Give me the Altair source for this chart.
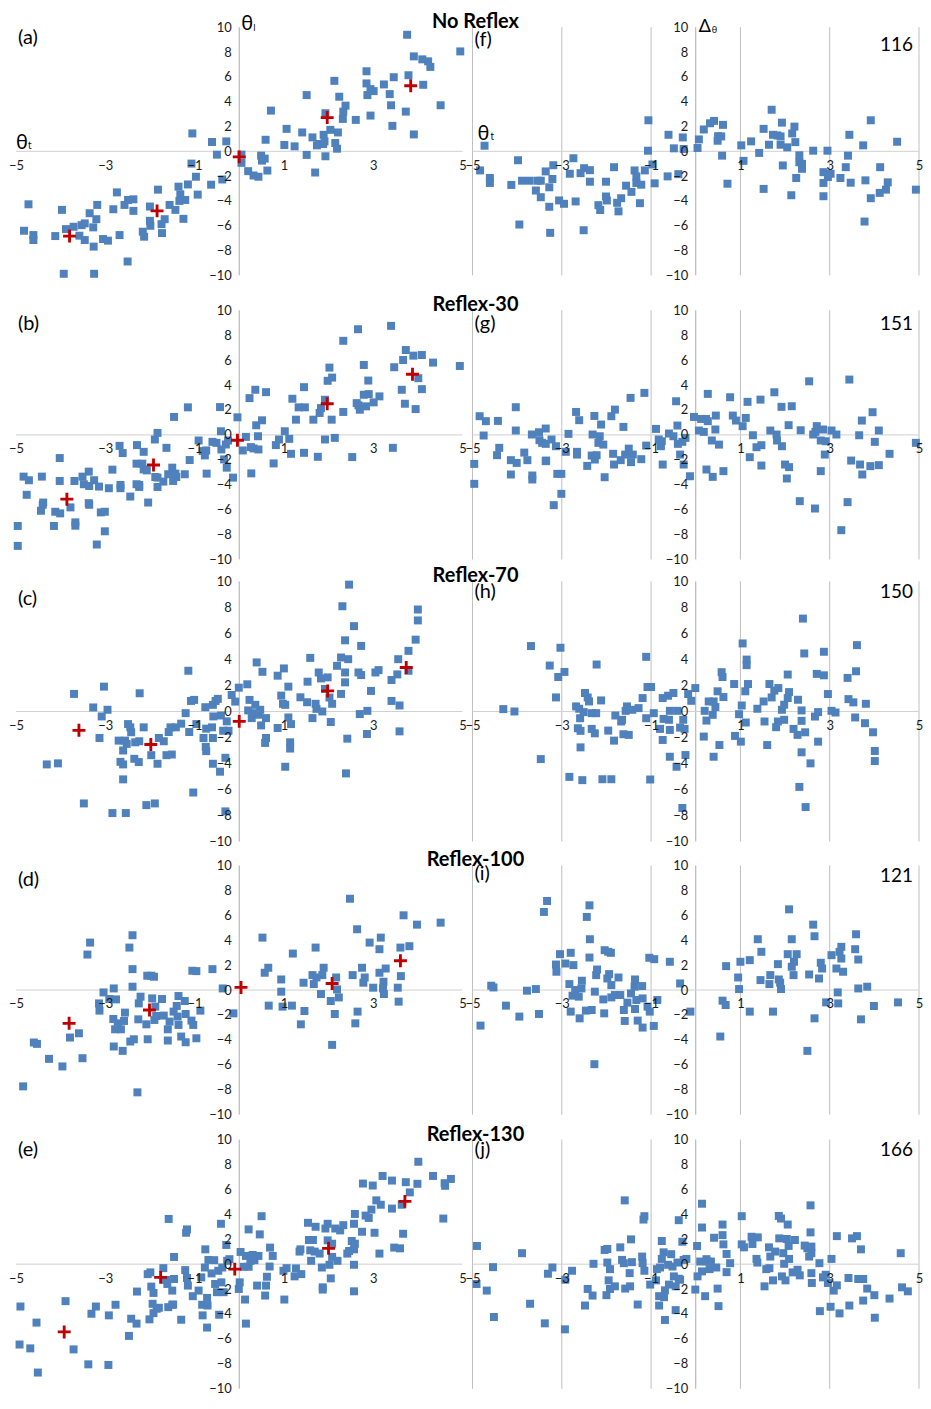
import altair as alt
import pandas as pd

# ---------------- data ----------------
ROW_TITLES = ["No Reflex", "Reflex-30", "Reflex-70", "Reflex-100", "Reflex-130"]
LEFT_LETTERS = ["(a)", "(b)", "(c)", "(d)", "(e)"]
RIGHT_LETTERS = ["(f)", "(g)", "(h)", "(i)", "(j)"]
COUNTS = ["116", "151", "150", "121", "166"]
X_TICKS = [-5, -3, -1, 1, 3, 5]
Y_TICKS = [-10, -8, -6, -4, -2, 0, 2, 4, 6, 8, 10]
GRID_X = [-5, -3, -1, 1, 3, 5]

# (a) theta_l vs theta_t, No Reflex
A_PTS = [(-4.82,-6.4),(-4.72,-4.27),(-4.61,-6.75),(-4.61,-7.15),(-4.12,-6.83),(-3.97,-4.72),(-3.93,-9.87),
 (-3.88,-6.27),(-3.71,-6.08),(-3.58,-6.8),(-3.53,-5.95),(-3.46,-5.81),(-3.46,-7.15),(-3.35,-4.99),(-3.27,-6.13),
 (-3.26,-7.68),(-3.25,-9.87),(-3.2,-5.47),(-3.18,-4.32),(-3.05,-7.07),(-2.94,-7.2),(-2.82,-4.67),(-2.74,-3.31),
 (-2.68,-6.75),(-2.57,-4.32),(-2.49,-3.92),(-2.5,-8.88),(-2.37,-3.87),(-2.37,-4.8),(-2.16,-6.48),(-2.13,-6.88),
 (-2.0,-4.45),(-2.0,-5.6),(-1.99,-6.0),(-1.82,-3.09),(-1.73,-6.59),(-1.74,-5.87),(-1.67,-5.47),(-1.56,-4.32),
 (-1.43,-4.72),(-1.36,-2.85),(-1.32,-3.47),(-1.34,-4.0),(-1.25,-5.44),(-1.21,-3.92),(-1.15,-2.67),(-1.05,1.44),
 (-1.07,-0.99),(-0.97,-2.05),(-0.93,-3.49),(-0.63,-2.69),(-0.61,0.75),(-0.5,-0.27),(-0.38,-2.27),(-0.29,0.8),
 (0.05,-0.27),(0.05,-0.93),(0.2,-1.6),(0.32,-1.95),(0.43,-2.05),(0.49,-0.35),(0.51,-0.75),(0.57,-0.59),
 (0.63,-1.55),(0.59,0.93),(0.71,3.28),(1.01,0.51),(1.06,1.81),(1.24,0.4),(1.41,1.52),(1.51,4.53),(1.51,-0.29),
 (1.64,1.12),(1.7,-1.71),(1.74,0.48),(1.8,0.59),(1.88,0.59),(1.89,1.33),(1.91,0.8),(1.93,-0.4),(1.93,3.07),
 (2.04,1.73),(2.13,5.68),(2.15,0.67),(2.19,0.21),(2.21,1.52),(2.24,4.4),(2.32,2.61),(2.33,3.2),(2.38,3.68),
 (2.61,2.53),(2.85,6.45),(2.85,5.47),(2.87,4.53),(2.94,5.01),(2.94,2.88),(3.01,4.85),(3.24,5.39),(3.37,4.61),
 (3.4,3.71),(3.43,2.05),(3.46,5.97),(3.73,3.2),(3.76,9.39),(3.79,6.13),(3.91,7.65),(3.91,1.36),(4.1,7.41),
 (4.12,5.36),(4.23,7.25),(4.28,6.8),(4.51,3.71),(4.95,8.05)]
A_MEANS = [(-3.8,-6.83),(-1.84,-4.8),(0.0,-0.45),(1.97,2.72),(3.84,5.28)]

# (f) delta vs theta_t, No Reflex
F_PTS = [(-4.83,-1.54),(-4.73,0.45),(-4.61,-2.15),(-4.61,-2.55),(-4.13,-2.71),(-3.98,-0.72),(-3.95,-5.9),
 (-3.89,-2.37),(-3.72,-2.37),(-3.58,-3.16),(-3.54,-2.37),(-3.47,-2.37),(-3.47,-3.7),(-3.36,-1.62),(-3.28,-2.9),
 (-3.28,-4.47),(-3.26,-6.57),(-3.21,-2.23),(-3.19,-1.12),(-3.06,-3.96),(-2.95,-4.23),(-2.82,-1.81),(-2.74,-0.56),
 (-2.69,-4.04),(-2.58,-1.76),(-2.5,-1.36),(-2.51,-6.36),(-2.37,-1.52),(-2.37,-2.45),(-2.18,-4.34),(-2.14,-4.73),
 (-2.01,-2.45),(-2.01,-3.64),(-1.99,-3.96),(-1.83,-1.28),(-1.76,-4.15),(-1.73,-4.84),(-1.67,-3.78),(-1.56,-2.77),
 (-1.44,-3.27),(-1.37,-1.54),(-1.33,-2.02),(-1.33,-2.55),(-1.22,-2.69),(-1.25,-4.18),(-1.14,-1.54),(-1.07,0.05),
 (-1.06,2.5),(-0.97,-1.06),(-0.92,-2.58),(-0.63,-2.02),(-0.61,1.33),(-0.49,0.24),(-0.39,-1.84),(-0.29,1.12),
 (-0.27,0.19),(0.04,0.27),(0.07,0.96),(0.18,1.76),(0.32,2.26),(0.41,2.45),(0.49,0.85),(0.5,1.22),(0.57,1.2),
 (0.59,-0.35),(0.61,2.13),(0.71,-2.61),(1.02,0.48),(1.07,-0.77),(1.24,0.8),(1.42,-0.13),(1.52,1.81),(1.52,-3.03),
 (1.64,0.53),(1.7,3.35),(1.73,1.33),(1.83,1.28),(1.9,1.2),(1.9,0.53),(1.93,2.31),(1.95,-1.14),(2.05,0.32),
 (2.14,-3.54),(2.16,1.44),(2.21,1.99),(2.23,0.74),(2.25,-2.15),(2.32,-0.32),(2.32,-0.88),(2.38,-1.01),(2.38,-1.41),
 (2.63,0.05),(2.86,-1.68),(2.86,-2.55),(2.86,-3.62),(2.95,0.05),(2.96,-2.07),(3.02,-1.81),(3.24,-2.15),
 (3.36,-1.28),(3.41,-0.35),(3.44,1.33),(3.47,-2.53),(3.75,0.48),(3.78,-5.66),(3.8,-2.34),(3.92,-3.78),(3.92,2.5),
 (4.13,-1.28),(4.12,-3.35),(4.26,-3.09),(4.3,-2.5),(4.51,0.77),(4.93,-3.09)]

# (b) Reflex-30
B_PTS = [(-4.96,-7.31),(-4.96,-8.91),(-4.83,-3.35),(-4.76,-4.81),(-4.71,-3.64),(-4.44,-6.09),(-4.42,-3.35),
 (-4.4,-5.61),(-4.39,-5.43),(-4.15,-7.31),(-4.12,-6.17),(-4.02,-1.86),(-4.02,-3.7),(-4.01,-6.3),(-3.78,-5.82),
 (-3.69,-3.7),(-3.67,-7.02),(-3.67,-7.29),(-3.51,-3.35),(-3.48,-3.96),(-3.37,-2.95),(-3.36,-4.1),(-3.37,-5.48),
 (-3.36,-5.61),(-3.25,-3.64),(-3.19,-8.8),(-3.14,-4.15),(-3.1,-6.22),(-3.01,-6.17),(-3.01,-7.74),(-2.92,-4.28),
 (-2.84,-2.79),(-2.68,-0.88),(-2.66,-4.28),(-2.66,-4.02),(-2.61,-1.46),(-2.44,-4.95),(-2.29,-0.82),(-2.3,-2.31),
 (-2.3,-3.96),(-2.24,-4.02),(-2.24,-4.18),(-2.17,-2.31),(-2.14,-1.36),(-2.14,-2.77),(-2.07,-2.85),(-2.04,-5.43),
 (-1.89,-0.37),(-1.88,-3.38),(-1.83,0.16),(-1.83,-3.43),(-1.83,-4.18),(-1.7,-3.75),(-1.63,-1.04),(-1.59,-3.16),
 (-1.5,-2.63),(-1.48,-3.7),(-1.46,1.44),(-1.43,-3.11),(-1.41,-3.38),(-1.22,-3.16),(-1.15,2.21),(-1.11,-2.02),
 (-0.91,-0.45),(-0.82,-1.3),(-0.77,-1.65),(-0.74,-1.25),(-0.73,-3.11),(-0.6,-0.56),(-0.51,-0.64),(-0.43,2.23),
 (-0.41,0.29),(-0.4,-1.17),(-0.34,-1.97),(-0.3,-0.77),(-0.28,-2.63),(-0.25,-0.45),(-0.14,-3.43),(-0.04,1.41),
 (0.08,-1.25),(0.15,-0.16),(0.23,2.95),(0.26,-0.98),(0.27,-3.09),(0.32,-1.09),(0.36,3.62),(0.38,0.77),
 (0.42,-0.11),(0.43,-1.17),(0.51,1.17),(0.6,3.43),(0.77,-2.29),(0.82,-0.82),(0.89,-0.37),(1.02,0.29),
 (1.12,-0.32),(1.16,-1.52),(1.19,2.9),(1.27,1.22),(1.33,2.21),(1.45,3.83),(1.47,2.21),(1.45,-1.44),(1.66,1.22),
 (1.76,-1.76),(1.8,1.76),(1.83,2.15),(1.92,-0.37),(1.92,2.82),(1.98,4.34),(2.02,5.4),(2.08,4.6),(2.07,1.22),
 (2.14,-0.24),(2.33,7.55),(2.33,1.84),(2.53,-1.78),(2.63,2.55),(2.66,8.48),(2.67,2.37),(2.7,2.02),(2.79,5.61),
 (2.79,3.22),(2.84,2.29),(2.89,4.36),(2.9,3.27),(3.01,2.61),(3.14,3.09),(3.4,8.75),(3.44,-1.04),(3.47,5.43),
 (3.64,3.62),(3.67,6.01),(3.71,2.5),(3.73,6.81),(3.9,6.36),(3.95,2.07),(4.01,4.55),(4.09,6.41),(4.09,3.67),
 (4.34,5.8),(4.94,5.53)]
B_MEANS = [(-3.86,-5.16),(-1.92,-2.42),(-0.04,-0.43),(1.97,2.5),(3.88,4.87)]

# (g) Reflex-30 delta
G_PTS = [(-4.96,-2.33),(-4.96,-3.93),(-4.84,1.5),(-4.75,-0.05),(-4.7,1.1),(-4.45,-1.63),(-4.43,1.12),(-4.4,-1.04),
 (-4.14,-2.03),(-4.14,-3.18),(-4.03,2.22),(-4.03,0.35),(-4.01,-2.25),(-3.84,-1.42),(-3.77,-2.03),(-3.67,0.03),
 (-3.66,-3.26),(-3.66,-3.58),(-3.51,0.21),(-3.5,-0.43),(-3.44,-0.64),(-3.36,0.51),(-3.36,-0.72),(-3.36,-2.11),
 (-3.35,-2.06),(-3.23,-0.37),(-3.18,-5.64),(-3.13,-0.91),(-3.1,-3.13),(-3.01,-3.13),(-3.01,-4.73),(-2.91,-1.36),
 (-2.85,0.08),(-2.68,1.84),(-2.66,-1.36),(-2.66,-1.58),(-2.61,1.18),(-2.43,-2.49),(-2.33,-1.66),(-2.31,0.03),
 (-2.27,1.52),(-2.26,-1.98),(-2.22,-1.63),(-2.15,-0.11),(-2.18,-0.64),(-2.12,0.83),(-2.07,-0.78),(-2.04,-3.4),
 (-1.89,1.5),(-1.85,-1.52),(-1.81,2.03),(-1.83,-2.38),(-1.68,-2.03),(-1.62,0.64),(-1.58,-1.58),(-1.5,-1.1),
 (-1.46,2.97),(-1.45,-2.19),(-1.41,-1.58),(-1.22,-1.95),(-1.15,3.37),(-1.11,-0.86),(-0.89,0.48),(-0.83,-0.37),
 (-0.78,-0.91),(-0.76,-0.51),(-0.74,-2.38),(-0.6,0.11),(-0.5,-0.11),(-0.44,2.7),(-0.41,0.75),(-0.4,-0.72),
 (-0.35,-1.58),(-0.3,-0.56),(-0.27,-2.38),(-0.23,-0.24),(-0.13,-3.32),(-0.04,1.44),(0.07,0.35),(0.12,1.28),
 (0.18,0.24),(0.23,1.28),(0.24,-2.78),(0.27,3.29),(0.27,1.1),(0.36,-0.45),(0.38,-3.37),(0.44,0.43),(0.45,1.55),
 (0.52,-0.78),(0.62,-2.91),(0.77,3.02),(0.83,1.55),(0.9,1.15),(1.05,0.7),(1.12,1.36),(1.16,2.65),(1.21,-1.79),
 (1.28,-0.03),(1.36,-0.99),(1.45,2.83),(1.47,-0.83),(1.47,-2.46),(1.67,0.35),(1.76,3.42),(1.81,0.03),
 (1.82,-0.45),(1.92,2.25),(1.93,-0.91),(2.0,-2.38),(2.04,-3.5),(2.08,0.78),(2.09,-2.59),(2.15,2.3),(2.33,-5.32),
 (2.35,0.37),(2.54,4.3),(2.63,0.03),(2.67,-5.91),(2.68,0.24),(2.71,0.7),(2.8,-0.45),(2.8,-2.91),(2.85,0.43),
 (2.91,-0.51),(2.89,-1.58),(3.04,0.35),(3.15,0.03),(3.26,-7.65),(3.4,-5.4),(3.44,4.44),(3.48,-2.06),(3.66,-0.03),
 (3.68,-2.38),(3.72,1.15),(3.73,-3.18),(3.91,-2.51),(3.96,1.82),(4.01,-0.56),(4.1,0.35),(4.1,-2.43),(4.34,-1.52),
 (4.93,-0.64)]

# (c) Reflex-70
C_PTS = [(-4.31,-4.07),(-4.06,-3.99),(-3.7,1.35),(-3.48,-7.07),(-3.27,0.31),(-3.13,-2.04),(-3.08,-0.38),
 (-3.03,1.91),(-2.95,0.13),(-2.84,-7.81),(-2.7,-2.24),(-2.66,-3.87),(-2.6,-3.0),(-2.6,-5.22),(-2.6,-4.07),
 (-2.56,-2.24),(-2.54,-7.81),(-2.52,-2.49),(-2.49,-0.97),(-2.44,-1.22),(-2.42,-1.6),(-2.35,-3.64),(-2.33,-2.37),
 (-2.25,-3.89),(-2.24,-2.29),(-2.23,1.4),(-2.14,-1.22),(-2.08,-7.2),(-1.97,-3.36),(-1.89,-7.07),(-1.83,-4.02),
 (-1.8,-2.04),(-1.69,-2.29),(-1.63,-3.36),(-1.58,-1.58),(-1.54,-1.22),(-1.51,-3.31),(-1.42,-1.22),(-1.3,-0.94),
 (-1.2,-0.13),(-1.14,3.13),(-1.12,-1.58),(-1.08,0.81),(-1.03,-6.23),(-1.01,0.89),(-0.96,-0.97),(-0.8,-2.04),
 (-0.76,0.33),(-0.74,-1.32),(-0.75,-2.72),(-0.74,-3.05),(-0.61,-1.22),(-0.59,-2.04),(-0.59,0.51),(-0.59,-4.02),
 (-0.58,-0.38),(-0.53,0.81),(-0.48,0.97),(-0.43,-4.63),(-0.41,-0.31),(-0.36,-1.48),(-0.31,-3.56),(-0.31,-7.68),
 (-0.28,-0.76),(-0.24,-1.48),(-0.17,1.27),(-0.09,0.76),(-0.01,1.83),(0.18,2.09),(0.2,0.08),(0.23,0.89),
 (0.28,-0.51),(0.32,-0.13),(0.36,0.51),(0.39,3.77),(0.43,-0.25),(0.47,0.13),(0.49,-1.07),(0.52,3.05),
 (0.58,-2.42),(0.6,-0.51),(0.6,-2.04),(0.86,2.75),(0.86,-1.27),(0.94,1.22),(0.98,0.59),(1.0,3.31),(1.03,-4.25),
 (1.03,0.51),(1.1,-0.46),(1.1,1.91),(1.14,-2.37),(1.14,-2.85),(1.16,-0.97),(1.37,1.09),(1.52,0.71),(1.53,2.29),
 (1.59,4.12),(1.64,-0.51),(1.71,0.59),(1.73,0.2),(1.78,3.0),(1.83,2.54),(1.86,0.0),(1.92,1.73),(1.98,2.62),
 (2.02,1.07),(2.05,-0.81),(2.08,0.59),(2.19,3.51),(2.28,4.15),(2.28,1.35),(2.31,8.09),(2.37,5.47),(2.37,3.0),
 (2.37,2.24),(2.39,-4.76),(2.42,-2.09),(2.44,4.02),(2.46,9.75),(2.57,6.56),(2.67,3.0),(2.7,-0.2),(2.73,5.04),
 (2.73,2.8),(2.86,-1.73),(2.87,0.05),(2.95,1.58),(3.05,3.0),(3.12,3.18),(3.41,2.42),(3.41,0.81),(3.54,2.85),
 (3.56,4.02),(3.59,-1.53),(3.59,0.46),(3.79,4.66),(3.79,3.13),(3.95,5.52),(4.0,7.0),(4.0,7.84)]
C_MEANS = [(-3.59,-1.45),(-1.98,-2.54),(0.0,-0.76),(1.98,1.58),(3.74,3.38)]

# (h) Reflex-70 delta
H_PTS = [(-4.31,0.18),(-4.06,0.0),(-3.69,5.03),(-3.47,-3.66),(-3.27,3.53),(-3.13,1.08),(-3.08,2.65),(-3.03,4.9),
 (-2.94,3.04),(-2.83,-5.03),(-2.68,0.39),(-2.64,-1.29),(-2.61,0.21),(-2.59,-0.52),(-2.58,-1.49),(-2.58,-2.76),
 (-2.54,-5.28),(-2.51,-0.05),(-2.48,1.42),(-2.42,1.08),(-2.39,0.77),(-2.33,-0.13),(-2.33,-1.34),(-2.26,-1.68),
 (-2.23,-0.13),(-2.22,3.61),(-2.12,0.85),(-2.09,-5.21),(-1.96,-1.47),(-1.89,-5.21),(-1.83,-2.24),(-1.8,-0.31),
 (-1.67,-0.77),(-1.65,-0.64),(-1.62,-1.75),(-1.57,0.05),(-1.54,0.39),(-1.5,-1.8),(-1.42,0.13),(-1.28,0.26),
 (-1.19,1.03),(-1.11,-0.52),(-1.11,4.2),(-1.08,1.88),(-1.02,-5.23),(-1.0,1.88),(-0.94,-0.13),(-0.8,-1.34),
 (-0.74,1.03),(-0.74,-2.19),(-0.72,-0.57),(-0.62,1.21),(-0.6,-0.64),(-0.58,-1.42),(-0.58,0.05),(-0.58,-3.48),
 (-0.5,1.42),(-0.43,-4.25),(-0.41,0.05),(-0.35,-1.24),(-0.3,-7.42),(-0.28,-0.64),(-0.25,-1.34),(-0.23,-3.35),
 (-0.17,1.34),(-0.1,0.82),(-0.01,1.8),(0.18,-1.93),(0.2,0.05),(0.24,-0.7),(0.29,0.77),(0.38,-0.26),(0.4,0.77),
 (0.4,-3.48),(0.44,0.34),(0.49,1.55),(0.53,-2.58),(0.58,3.02),(0.6,2.65),(0.62,1.11),(0.86,2.11),(0.88,-1.88),
 (0.97,-0.21),(1.01,-2.32),(1.03,0.46),(1.05,5.23),(1.11,1.55),(1.12,-0.85),(1.14,3.99),(1.14,3.56),(1.17,2.11),
 (1.38,0.21),(1.52,0.77),(1.54,-0.77),(1.6,-2.58),(1.65,2.11),(1.7,1.08),(1.76,1.6),(1.8,-1.21),(1.84,-0.77),
 (1.85,1.8),(1.93,0.13),(1.98,0.52),(1.98,-0.64),(2.06,2.84),(2.06,1.03),(2.09,1.49),(2.19,-1.34),(2.28,-1.8),
 (2.29,0.9),(2.32,-5.8),(2.37,0.08),(2.37,-0.72),(2.37,-3.14),(2.4,7.14),(2.43,4.46),(2.45,-1.6),(2.46,-7.35),
 (2.57,-3.99),(2.67,-0.39),(2.71,2.89),(2.74,-0.05),(2.74,-2.32),(2.87,4.59),(2.87,2.78),(2.96,1.34),(3.04,0.05),
 (3.13,-0.08),(3.4,2.58),(3.42,0.95),(3.53,0.7),(3.57,-0.46),(3.59,3.09),(3.61,5.1),(3.79,-0.9),(3.81,0.59),
 (3.97,-1.6),(4.01,-3.04),(4.01,-3.81)]

# (d) Reflex-100
D_PTS = [(-4.84,-7.73),(-4.6,-4.21),(-4.53,-4.32),(-4.26,-5.52),(-3.96,-6.13),(-3.79,-3.81),(-3.59,-3.47),
 (-3.51,-5.47),(-3.4,2.85),(-3.34,3.81),(-3.14,-1.07),(-3.13,-1.65),(-3.04,-0.19),(-2.91,-0.72),(-2.81,0.13),
 (-2.82,-2.32),(-2.81,-4.53),(-2.76,-0.75),(-2.78,-3.15),(-2.72,-2.67),(-2.65,-3.15),(-2.61,-4.88),(-2.58,-2.48),
 (-2.56,-1.81),(-2.46,3.41),(-2.44,-4.13),(-2.39,4.4),(-2.39,1.68),(-2.39,0.27),(-2.36,-3.95),(-2.28,-8.21),
 (-2.26,-2.35),(-2.25,-1.07),(-2.21,-0.53),(-2.08,-2.75),(-2.06,1.15),(-2.05,-3.95),(-1.97,1.15),(-1.95,-0.67),
 (-1.91,1.07),(-1.9,-2.4),(-1.88,-1.33),(-1.86,-2.08),(-1.73,-0.72),(-1.69,-2.05),(-1.6,-3.15),(-1.6,-4.05),
 (-1.56,-2.53),(-1.47,-1.73),(-1.4,-1.28),(-1.38,-2.13),(-1.36,-2.8),(-1.36,-0.48),(-1.3,-3.73),(-1.22,-0.88),
 (-1.2,-1.92),(-1.2,-4.19),(-1.07,-2.45),(-1.03,-2.8),(-1.05,1.55),(-0.96,1.52),(-0.96,-3.87),(-0.87,-1.65),
 (-0.6,1.68),(-0.37,0.13),(-0.13,-1.87),(0.52,4.21),(0.57,1.39),(0.65,1.79),(0.66,-1.25),(0.94,0.85),
 (0.94,-0.13),(0.97,-1.33),(1.18,-1.25),(1.2,2.93),(1.38,-2.75),(1.44,0.59),(1.46,-1.68),(1.64,1.2),(1.67,0.48),
 (1.71,3.41),(1.73,1.01),(1.83,-0.32),(1.86,1.2),(1.89,1.79),(2.05,-0.88),(2.08,-4.4),(2.14,-1.92),(2.17,1.01),
 (2.19,0.05),(2.23,-0.59),(2.48,7.33),(2.54,1.2),(2.6,-2.67),(2.64,4.88),(2.65,-1.73),(2.75,1.79),(2.78,0.59),
 (2.81,1.01),(2.92,3.81),(3.0,0.19),(3.14,3.28),(3.14,1.39),(3.17,4.21),(3.22,0.13),(3.23,0.67),(3.24,-0.32),
 (3.28,1.73),(3.55,0.19),(3.57,-0.93),(3.61,3.41),(3.62,1.12),(3.68,6.0),(3.81,3.52),(3.98,5.25),(4.51,5.41)]
D_MEANS = [(-3.81,-2.67),(-2.01,-1.6),(0.04,0.21),(2.08,0.53),(3.61,2.35)]

# (i) Reflex-100 delta
I_PTS = [(-4.82,-2.85),(-4.58,0.35),(-4.53,0.21),(-4.25,-1.25),(-3.95,-2.13),(-3.78,-0.05),(-3.58,0.08),
 (-3.51,-1.92),(-3.4,6.27),(-3.33,7.15),(-3.13,2.05),(-3.12,1.47),(-3.04,2.88),(-2.92,2.13),(-2.83,0.48),
 (-2.8,-1.73),(-2.8,2.99),(-2.76,-0.45),(-2.74,2.0),(-2.7,0.0),(-2.62,-0.53),(-2.6,-2.27),(-2.56,0.13),
 (-2.55,0.75),(-2.46,-1.65),(-2.44,5.87),(-2.38,2.61),(-2.38,6.8),(-2.37,4.08),(-2.33,-1.6),(-2.27,-5.95),
 (-2.26,-0.13),(-2.23,1.2),(-2.21,1.65),(-2.07,-0.75),(-2.05,-1.87),(-2.04,3.2),(-1.98,0.93),(-1.96,3.07),
 (-1.94,1.28),(-1.9,2.99),(-1.89,0.4),(-1.89,-0.59),(-1.81,-0.4),(-1.73,1.01),(-1.69,-0.4),(-1.61,-1.6),
 (-1.59,-2.48),(-1.53,-1.01),(-1.45,-0.27),(-1.37,0.27),(-1.36,0.85),(-1.36,-1.52),(-1.33,-0.8),(-1.3,-2.45),
 (-1.2,0.32),(-1.19,-0.67),(-1.19,-3.01),(-1.08,-1.33),(-1.04,2.59),(-1.03,-1.73),(-0.94,-2.88),(-0.93,2.48),
 (-0.86,-0.8),(-0.58,2.27),(-0.35,0.53),(-0.12,-1.73),(0.55,-3.73),(0.6,-0.85),(0.67,-1.2),(0.68,1.92),
 (0.95,1.01),(0.97,0.08),(1.0,2.27),(1.21,-1.73),(1.21,2.4),(1.39,4.08),(1.45,0.8),(1.47,3.07),(1.65,0.48),
 (1.67,1.2),(1.73,-1.73),(1.84,2.08),(1.86,0.85),(1.89,0.59),(1.91,0.08),(2.06,2.88),(2.09,6.48),(2.15,1.87),
 (2.15,4.08),(2.19,1.2),(2.2,2.27),(2.26,2.88),(2.5,-4.88),(2.54,1.25),(2.63,5.25),(2.66,4.32),(2.66,-2.27),
 (2.76,0.93),(2.8,2.19),(2.83,1.73),(2.92,-0.99),(3.04,2.8),(3.15,1.73),(3.18,-0.19),(3.19,-1.07),(3.22,3.07),
 (3.26,3.47),(3.26,2.53),(3.3,1.47),(3.57,3.28),(3.59,4.48),(3.64,2.45),(3.64,0.13),(3.7,-2.35),(3.84,0.27),
 (3.99,-1.28),(4.53,-0.99)]

# (e) Reflex-130
E_PTS = [(-4.9,-3.4),(-4.92,-6.45),(-4.68,-6.76),(-4.54,-4.69),(-4.51,-8.7),(-3.89,-2.97),(-3.71,-6.84),
 (-3.38,-8.04),(-3.31,-3.98),(-3.21,-3.4),(-2.93,-8.09),(-2.92,-4.11),(-2.77,-3.26),(-2.47,-5.76),(-2.42,-4.38),
 (-2.3,-4.77),(-2.29,-2.2),(-2.05,-0.8),(-1.99,-0.66),(-1.97,-1.8),(-2.01,-4.43),(-1.94,-3.18),(-1.92,-2.31),
 (-1.92,-3.93),(-1.85,-3.58),(-1.8,-3.5),(-1.7,-0.32),(-1.64,-1.27),(-1.61,-1.59),(-1.58,3.63),(-1.59,-3.45),
 (-1.5,-2.12),(-1.5,-3.26),(-1.48,-3.24),(-1.46,-1.19),(-1.46,0.58),(-1.3,-4.46),(-1.21,-0.48),(-1.19,2.52),
 (-1.17,2.79),(-1.17,-1.11),(-1.15,-1.72),(-1.04,-2.57),(-0.91,-2.12),(-0.85,-1.06),(-0.83,-3.26),(-0.82,-4.11),
 (-0.76,1.19),(-0.77,-0.27),(-0.72,-2.71),(-0.72,-5.09),(-0.71,-3.32),(-0.69,0.34),(-0.62,-0.74),(-0.56,0.32),
 (-0.54,-1.59),(-0.5,-2.25),(-0.47,-0.53),(-0.45,-4.06),(-0.41,3.24),(-0.4,-1.46),(-0.38,-0.27),(-0.35,-2.25),
 (-0.29,1.54),(-0.27,0.27),(-0.22,0.4),(-0.01,-1.99),(0.01,-1.46),(0.03,0.98),(0.1,-0.21),(0.13,-2.84),
 (0.15,-4.77),(0.15,0.66),(0.21,2.79),(0.21,-0.21),(0.25,0.27),(0.3,0.74),(0.34,0.32),(0.4,-1.72),(0.43,0.66),
 (0.46,2.39),(0.5,3.85),(0.58,-2.52),(0.6,-1.72),(0.62,-1.01),(0.68,-0.19),(0.69,1.33),(0.75,0.66),(0.99,-0.53),
 (1.01,-2.84),(1.06,-0.32),(1.24,-0.98),(1.27,-0.34),(1.35,1.01),(1.39,-0.8),(1.37,1.19),(1.54,3.32),(1.56,1.94),
 (1.59,1.11),(1.61,0.27),(1.65,1.94),(1.69,1.01),(1.71,3.0),(1.8,0.85),(1.85,-0.27),(1.87,-1.86),(1.87,-2.04),
 (1.93,2.86),(1.98,1.91),(1.98,3.24),(2.02,-0.05),(2.05,-1.14),(2.08,1.64),(2.08,0.58),(2.15,2.86),(2.2,0.27),
 (2.26,2.71),(2.33,3.13),(2.42,0.85),(2.46,1.06),(2.52,1.86),(2.57,3.24),(2.57,1.19),(2.57,-0.05),(2.57,-2.18),
 (2.59,4.03),(2.59,1.64),(2.75,2.6),(2.77,6.47),(2.83,3.9),(2.9,3.71),(2.96,4.38),(2.99,6.31),(3.03,2.52),
 (3.07,5.12),(3.14,0.85),(3.17,4.77),(3.21,7.08),(3.42,4.46),(3.42,6.71),(3.47,1.33),(3.6,1.27),(3.64,4.77),
 (3.67,2.44),(3.73,6.58),(3.82,5.76),(3.99,6.45),(4.01,8.22),(4.34,7.08),(4.57,3.66),(4.6,6.5),(4.61,6.29),
 (4.74,6.84)]
E_MEANS = [(-3.92,-5.44),(-1.76,-1.06),(-0.1,-0.4),(2.0,1.27),(3.71,5.04)]

# (j) Reflex-130 delta
J_PTS = [(-4.91,-1.59),(-4.9,1.46),(-4.68,-2.12),(-4.54,-0.24),(-4.52,-4.24),(-3.89,0.88),(-3.71,-3.18),
 (-3.38,-4.75),(-3.31,-0.77),(-3.21,-0.27),(-2.93,-5.23),(-2.92,-1.25),(-2.77,-0.53),(-2.48,-3.32),(-2.42,-1.99),
 (-2.31,-2.52),(-2.29,0.03),(-2.04,1.14),(-1.98,1.22),(-1.98,0.13),(-2.0,-2.49),(-1.95,-1.3),(-1.92,-0.4),
 (-1.92,-1.99),(-1.81,-1.78),(-1.69,1.35),(-1.65,0.34),(-1.61,0.08),(-1.59,5.12),(-1.58,-1.96),(-1.48,-0.72),
 (-1.47,-1.78),(-1.45,1.99),(-1.43,0.16),(-1.3,-3.24),(-1.2,0.61),(-1.19,0.08),(-1.17,3.58),(-1.15,3.85),
 (-1.15,-0.53),(-1.02,-1.64),(-0.89,-1.3),(-0.87,-0.4),(-0.82,-2.57),(-0.82,-3.32),(-0.8,-0.27),(-0.76,1.86),
 (-0.76,0.42),(-0.72,0.95),(-0.71,-2.65),(-0.69,-4.48),(-0.69,-2.1),(-0.62,-0.05),(-0.6,-1.64),(-0.55,0.8),
 (-0.52,-0.19),(-0.49,-0.98),(-0.45,-3.69),(-0.45,-1.78),(-0.41,0.13),(-0.38,3.53),(-0.38,-1.17),(-0.35,-1.25),
 (-0.3,1.8),(-0.27,0.34),(-0.21,0.42),(-0.01,-2.04),(0.03,1.46),(0.04,-0.98),(0.1,0.21),(0.14,4.85),(0.14,2.94),
 (0.14,-0.58),(0.21,-2.57),(0.24,0.4),(0.27,0.21),(0.31,-0.4),(0.34,0.21),(0.41,2.12),(0.46,-0.27),(0.49,-1.96),
 (0.51,-3.37),(0.6,3.18),(0.6,2.33),(0.62,1.59),(0.69,0.82),(0.69,-0.64),(0.77,0.08),(1.03,3.85),(1.03,1.59),
 (1.08,1.35),(1.25,2.2),(1.27,1.62),(1.36,0.42),(1.38,0.13),(1.39,2.15),(1.54,-1.78),(1.58,-0.4),(1.64,1.35),
 (1.65,-0.32),(1.67,0.61),(1.73,-1.3),(1.78,1.01),(1.86,3.87),(1.87,2.07),(1.91,3.66),(1.93,-0.98),(1.96,0.88),
 (1.98,0.03),(2.01,-1.3),(2.04,2.02),(2.06,3.18),(2.08,1.46),(2.09,0.42),(2.17,-0.66),(2.22,1.94),(2.28,-0.45),
 (2.33,-0.9),(2.44,1.49),(2.5,1.27),(2.54,0.61),(2.57,4.72),(2.57,2.55),(2.59,1.41),(2.59,0.88),(2.59,-0.72),
 (2.6,-1.51),(2.77,0.08),(2.78,-3.77),(2.85,-1.06),(2.91,-0.85),(2.96,-1.51),(3.02,-3.42),(3.04,0.42),
 (3.09,-2.12),(3.16,-1.7),(3.16,2.25),(3.22,-3.95),(3.42,-1.11),(3.44,-3.32),(3.5,2.07),(3.61,2.25),(3.64,-1.19),
 (3.7,1.19),(3.75,-2.92),(3.75,-1.19),(3.84,-1.96),(4.0,-2.49),(4.01,-4.3),(4.34,-2.76),(4.59,0.88),(4.62,-1.86),
 (4.75,-2.18)]

LEFT_PTS = [A_PTS, B_PTS, C_PTS, D_PTS, E_PTS]
LEFT_MEANS = [A_MEANS, B_MEANS, C_MEANS, D_MEANS, E_MEANS]
RIGHT_PTS = [F_PTS, G_PTS, H_PTS, I_PTS, J_PTS]

# ---------------- styling / layout ----------------
BLUE = "#4F81BD"
RED = "#C00000"
GRIDC = "#BFBFBF"
YAXC = "#ABABAB"
XAXC = "#D0D0D0"
LABC = "#1A1A1A"
FONT = "Lato"
GREEK = "Noto Sans"
CROSS = "M-1,-0.22H1V0.22H-1Z M-0.22,-1H0.22V1H-0.22Z"
W = 448
PLOT_H = [249, 250, 261, 250, 250]      # plot-area height of each row
EXTRA = [13, 0, 2, 3, 0]                # empty space below a row (uneven gaps between rows)
ROW_SPACING = 22
LEFT_LETTER_Y = [11, 14, 18, 15, 10]
RIGHT_LETTER_Y = [13, 14, 11, 9, 10]
COUNT_Y = [18, 14, 11, 11, 10]

XS = alt.Scale(domain=[-5, 5], nice=False, zero=False)


def txt(s, x, y, size, font=FONT, align="left", baseline="middle", weight="normal", color="#000000"):
    return alt.Chart(pd.DataFrame({"t": [s]})).mark_text(
        font=font, fontSize=size, align=align, baseline=baseline, fontWeight=weight, color=color
    ).encode(text="t:N", x=alt.value(x), y=alt.value(y))


def panel(pts, PH, extra, grid, means, texts):
    H = PH + extra
    YS = alt.Scale(domain=[-10, 10], range=[PH, 0], nice=False, zero=False)
    xax = alt.Axis(values=X_TICKS, offset=-(H - PH / 2), domain=False, ticks=False, grid=False,
                   labelFlush=False, labelOverlap=False, labelPadding=8, zindex=1,
                   labelFont=FONT, labelFontSize=13, labelColor=LABC, title=None)
    yax = alt.Axis(values=Y_TICKS, offset=-W / 2, domain=False, ticks=False, grid=False,
                   labelOverlap=False, labelPadding=8, labelFont=FONT, labelFontSize=13, zindex=1,
                   labelColor=LABC, title=None)
    X = lambda f: alt.X(f, type="quantitative", scale=XS, axis=xax)
    Y = lambda f: alt.Y(f, type="quantitative", scale=YS, axis=yax)
    layers = []
    if grid:
        gdf = pd.DataFrame({"px": GRID_X, "lo": [-10] * len(GRID_X), "hi": [10] * len(GRID_X)})
        layers.append(alt.Chart(gdf).mark_rule(color=GRIDC, strokeWidth=1).encode(
            x=X("px"), y=Y("lo"), y2=alt.Y2("hi")))
    vdf = pd.DataFrame({"px": [0], "lo": [-10], "hi": [10]})
    layers.append(alt.Chart(vdf).mark_rule(color=YAXC, strokeWidth=1).encode(
        x=X("px"), y=Y("lo"), y2=alt.Y2("hi")))
    hdf = pd.DataFrame({"py": [0], "lo": [-5], "hi": [5]})
    layers.append(alt.Chart(hdf).mark_rule(color=XAXC, strokeWidth=1).encode(
        y=Y("py"), x=X("lo"), x2=alt.X2("hi")))
    df = pd.DataFrame(pts, columns=["x", "y"])
    layers.append(alt.Chart(df).mark_square(size=64, color=BLUE, opacity=1).encode(
        x=X("x"), y=Y("y")))
    if means:
        mdf = pd.DataFrame(means, columns=["x", "y"])
        layers.append(alt.Chart(mdf).mark_point(shape=CROSS, size=169, filled=True, color=RED,
                                                opacity=1, strokeWidth=0).encode(x=X("x"), y=Y("y")))
    layers += texts
    return alt.layer(*layers).properties(width=W, height=H)


panels = []
for i in range(5):
    PH = PLOT_H[i]
    ltx = [txt(LEFT_LETTERS[i], 2, LEFT_LETTER_Y[i], 20)]
    rtx = [txt(RIGHT_LETTERS[i], 2, RIGHT_LETTER_Y[i], 20),
           txt(COUNTS[i], W - 6, COUNT_Y[i], 19, align="right"),
           txt(ROW_TITLES[i], 3, 1, 20, align="center", baseline="alphabetic", weight="bold")]
    if i == 0:
        ltx += [txt("θ", W / 2 + 2, -3, 20, font=GREEK), txt("l", W / 2 + 14, 1, 9, font=GREEK),
                txt("θ", 0, PH / 2 - 8.5, 20, font=GREEK), txt("t", 12, PH / 2 - 5, 10, font=GREEK)]
        rtx += [txt("Δ", W / 2 + 3, -1, 19, font=GREEK), txt("θ", W / 2 + 16, 3, 9, font=GREEK),
                txt("θ", 5, PH / 2 - 17.5, 20, font=GREEK), txt("t", 18, PH / 2 - 14, 10, font=GREEK)]
    panels.append(panel(LEFT_PTS[i], PH, EXTRA[i], False, LEFT_MEANS[i], ltx))
    panels.append(panel(RIGHT_PTS[i], PH, EXTRA[i], True, None, rtx))

chart = alt.concat(*panels, columns=2, spacing={"row": ROW_SPACING, "column": 10}, bounds="flush")
chart = chart.configure_view(strokeWidth=0).properties(
    padding={"left": 0, "top": 2, "right": 0, "bottom": 0}
)

chart.save("out.html", embed_options={"renderer": "svg", "actions": False})
